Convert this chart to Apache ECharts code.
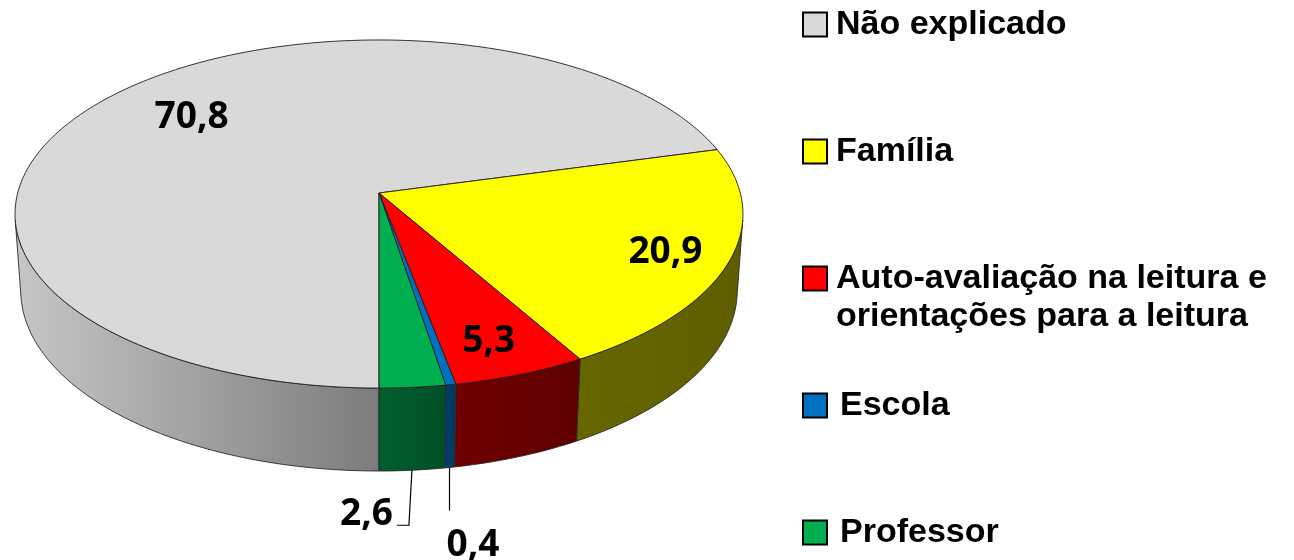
<!DOCTYPE html>
<html><head><meta charset="utf-8">
<script src="https://cdn.jsdelivr.net/npm/echarts@6/dist/echarts.min.js"></script>
<style>html,body{margin:0;padding:0;background:#fff}#c{width:1294px;height:560px}</style>
</head><body><div id="c"></div>
<script>
// ---- data ----
const categories = ['Não explicado', 'Família', 'Auto-avaliação na leitura e orientações para a leitura', 'Escola', 'Professor'];
const values = [70.8, 20.9, 5.3, 0.4, 2.6];
const valueLabels = ['70,8', '20,9', '5,3', '0,4', '2,6'];

// ---- styles ----
const topColors = ['#d9d9d9', '#ffff00', '#ff0000', '#0070c0', '#00b050'];
const sideColors = [['#c6c6c6', '#7c7c7c'], ['#676700', '#5e5e00'], ['#700000', '#600000'], ['#00416f', '#00365e'], ['#005f2f', '#004f27']];

// ---- 3D projection (perspective view of a tilted disc) ----
const SINP = 0.4747, COSP = Math.sqrt(1 - SINP * SINP), DIST = 7.29, THICK = 0.2432;
const TV = Math.acos(1 / (DIST * COSP)) * 180 / Math.PI; // visible wall half-range (deg)
function proj(u, Y, v) {
  const depth = DIST - Y * SINP - v * COSP;
  return [u * DIST / depth, (v * SINP - Y * COSP) * DIST / depth];
}

// angular ranges: start at front, go toward the right, legend order reversed
const total = values.reduce((a, b) => a + b, 0);
const angles = new Array(values.length);
(function () {
  let s = 0;
  for (let i = values.length - 1; i >= 0; i--) {
    const e = s + values[i] / total * 360;
    angles[i] = [s, e];
    s = e;
  }
})();

function makeRender(i) {
  return function (params, api) {
    const a1 = angles[i][0], a2 = angles[i][1];
    const pt = (deg, r, Y) => {
      const t = deg * Math.PI / 180;
      return api.coord(proj(r * Math.sin(t), Y, r * Math.cos(t)));
    };
    const children = [];
    // outer walls (visible front part)
    [[-TV, TV], [360 - TV, 360 + TV]].forEach(([lo, hi]) => {
      const b1 = Math.max(a1, lo), b2 = Math.min(a2, hi);
      if (b2 <= b1) return;
      const n = Math.max(2, Math.ceil((b2 - b1) / 1));
      const poly = [];
      for (let k = 0; k <= n; k++) poly.push(pt(b1 + (b2 - b1) * k / n, 1, 0));
      for (let k = n; k >= 0; k--) poly.push(pt(b1 + (b2 - b1) * k / n, 1, -THICK));
      children.push({
        type: 'polygon', shape: { points: poly },
        style: {
          fill: new echarts.graphic.LinearGradient(0, 0, 1, 0, [
            { offset: 0, color: sideColors[i][0] }, { offset: 1, color: sideColors[i][1] }]),
          stroke: '#2a2a2a', lineWidth: 0.9
        }
      });
    });
    // top face
    const N = Math.max(3, Math.ceil((a2 - a1) / 1));
    const top = [pt(0, 0, 0)];
    for (let k = 0; k <= N; k++) top.push(pt(a1 + (a2 - a1) * k / N, 1, 0));
    children.push({
      type: 'polygon', shape: { points: top },
      style: { fill: topColors[i], stroke: '#1e1e1e', lineWidth: 0.9 }
    });
    // value label
    const mid = (a1 + a2) / 2;
    const font = 'bold 37px "Open Sans", "Noto Sans", sans-serif';
    if (values[i] >= 5) {
      const big = values[i] > 50;
      const p = pt(big ? mid - 3 : mid - 1, big ? 0.72 : 0.83, 0);
      children.push({ type: 'text', x: p[0], y: p[1],
        style: { text: valueLabels[i], font: font, fill: '#000', align: 'center', verticalAlign: 'middle' } });
    } else if (values[i] < 1) {
      const s = pt(mid, 1, -THICK);
      const e = [s[0], s[1] + 43];
      children.push({ type: 'polyline', shape: { points: [s, e] }, style: { stroke: '#000', lineWidth: 1.2, fill: null } });
      children.push({ type: 'text', x: e[0] - 3, y: e[1] + 35,
        style: { text: valueLabels[i], font: font, fill: '#000', align: 'left', verticalAlign: 'middle' } });
    } else {
      const s = pt(mid, 1, -THICK);
      const m = [s[0] - 3, s[1] + 55];
      const e = [m[0] - 12, m[1]];
      children.push({ type: 'polyline', shape: { points: [s, m, e] }, style: { stroke: '#000', lineWidth: 1.2, fill: null } });
      children.push({ type: 'text', x: e[0] - 4, y: e[1] - 11,
        style: { text: valueLabels[i], font: font, fill: '#000', align: 'right', verticalAlign: 'middle' } });
    }
    return { type: 'group', children: children };
  };
}

const A = 361.3, CX = 379, CY = 193;
const ROW0 = 24.5, ROWSTEP = 127;

const chart = echarts.init(document.getElementById('c'), null, { renderer: 'canvas' });
chart.setOption({
  animation: false,
  backgroundColor: '#fff',
  grid: { left: CX - A, width: 2 * A, top: CY - 0.5 * A, height: 1.5 * A, containLabel: false, outerBoundsMode: 'none' },
  xAxis: { type: 'value', min: -1, max: 1, show: false },
  yAxis: { type: 'value', min: -0.5, max: 1.0, inverse: true, show: false },
  legend: categories.map((name, i) => {
    const twoLine = name.indexOf(' e ') > 0 && name.length > 30;
    const padLeft = i >= 3 ? 8 : 4;
    const center = ROW0 + i * ROWSTEP;
    return {
      data: [name], orient: 'vertical', left: 802, top: twoLine ? center - 57 : center - 19,
      padding: 0, selectedMode: false, icon: 'rect', itemWidth: 24, itemHeight: 24,
      itemStyle: { borderColor: '#000', borderWidth: 2 },
      formatter: n => twoLine ? '\n' + n.replace('leitura e ', 'leitura e\n') : n,
      textStyle: {
        fontFamily: '"Liberation Sans", Arial, sans-serif', fontWeight: 'bold', fontSize: 34,
        color: '#000', lineHeight: 38, padding: [0, 0, 0, padLeft]
      }
    };
  }),
  series: categories.map((name, i) => ({
    type: 'custom', name: name, coordinateSystem: 'cartesian2d',
    itemStyle: { color: topColors[i] },
    data: [[0, 0]], renderItem: makeRender(i), silent: true
  }))
});
</script></body></html>
